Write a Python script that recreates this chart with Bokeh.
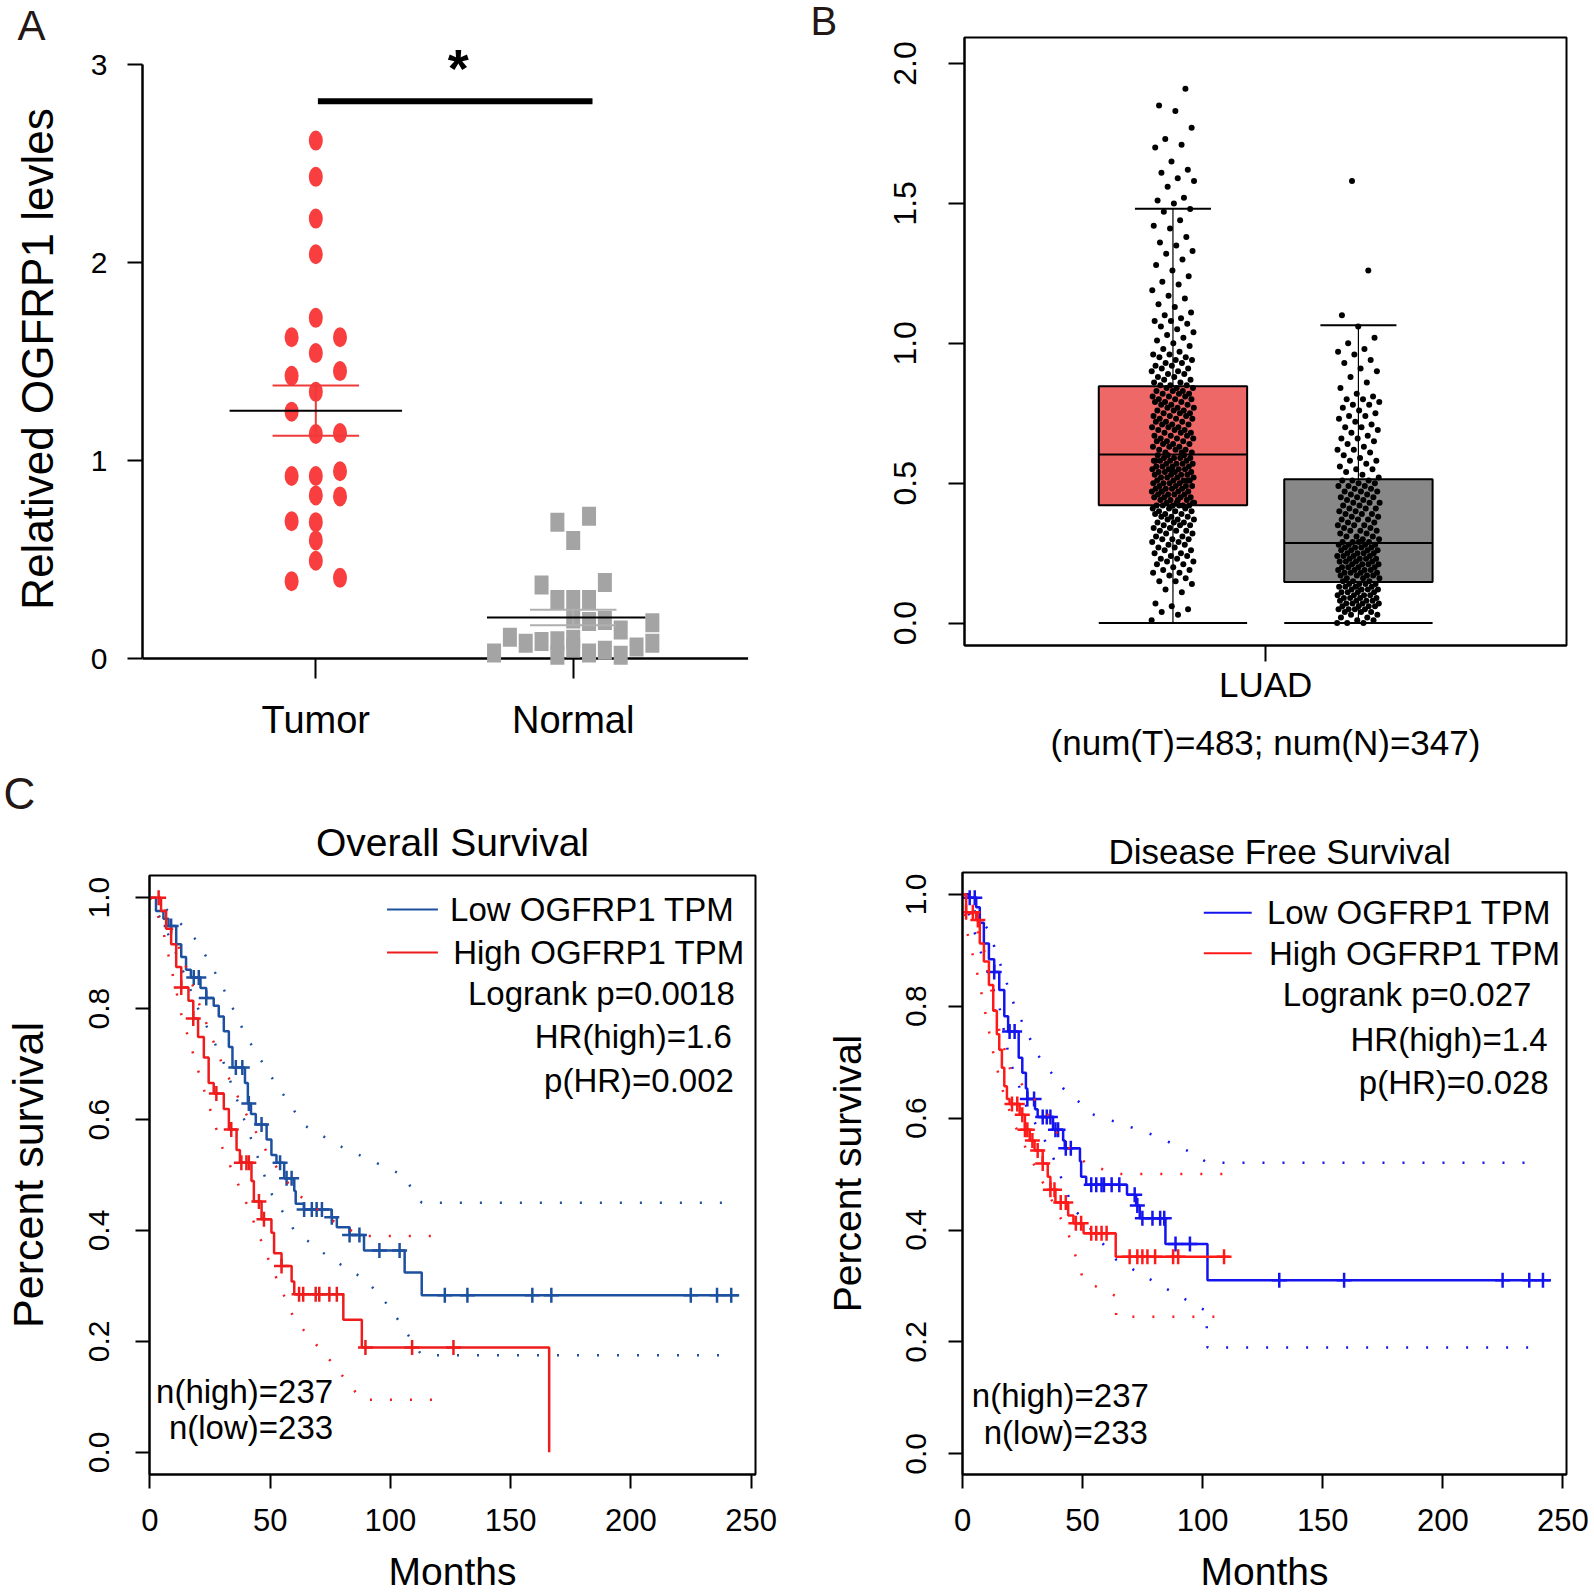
import math
import numpy as np
from bokeh.plotting import figure
from bokeh.models import Range1d, FixedTicker, Label, PrintfTickFormatter, Title
from bokeh.layouts import row, column
from bokeh.embed import file_html
from bokeh.resources import INLINE

FONT = "Liberation Sans"

# ---------------- Panel A data ----------------
a_categories = ["Tumor", "Normal"]
a_tumor_values = [2.616, 2.433, 2.222, 2.042, 1.721, 1.623, 1.623, 1.543, 1.452, 1.428,
                  1.347, 1.247, 1.134, 1.139, 0.946, 0.922, 0.922, 0.824, 0.819, 0.694,
                  0.689, 0.597, 0.494, 0.391, 0.408]
a_tumor_column = [0, 0, 0, 0, 0, -1, 1, 0, 1, -1, 0, -1, 0, 1, 1, -1, 0, 0, 1, -1, 0, 0, 0, -1, 1]
a_normal_values = [0.689, 0.719, 0.597, 0.372, 0.384, 0.298, 0.298, 0.298, 0.200, 0.188,
                   0.193, 0.181, 0.108, 0.078, 0.086, 0.090, 0.098, 0.144, 0.078, 0.029,
                   0.017, 0.054, 0.029, 0.042, 0.017, 0.059]
a_normal_column = [-1, 1, 0, -2, 2, -1, 0, 1, 0, 1, 2, 5, -4, -3, -2, -1, 0, 3, 5, -5, -1, 0, 1, 2, 3, 4]
a_tumor_mean, a_tumor_sem = 1.252, 0.127
a_normal_mean, a_normal_sem = 0.208, 0.039
a_yticks = [0, 1, 2, 3]
a_ylabel = "Relatived OGFRP1 levles"
a_sig_level = 2.815

# ---------------- Panel B data ----------------
b_tumor_points = [
    0.01, 0.03, 0.04, 0.05, 0.06, 0.07, 0.11, 0.12, 0.14, 0.15, 0.15, 0.16, 0.17, 0.18, 0.18,
    0.19, 0.19, 0.20, 0.21, 0.21, 0.22, 0.22, 0.23, 0.23, 0.24, 0.24, 0.25, 0.25, 0.26, 0.26,
    0.27, 0.27, 0.28, 0.28, 0.29, 0.29, 0.30, 0.30, 0.30, 0.31, 0.31, 0.32, 0.32, 0.33, 0.33,
    0.33, 0.34, 0.34, 0.35, 0.35, 0.35, 0.36, 0.36, 0.36, 0.37, 0.37, 0.37, 0.38, 0.38, 0.38,
    0.39, 0.39, 0.39, 0.40, 0.40, 0.40, 0.41, 0.41, 0.41, 0.42, 0.42, 0.42, 0.42, 0.42, 0.42,
    0.43, 0.43, 0.43, 0.44, 0.44, 0.44, 0.45, 0.45, 0.45, 0.45, 0.46, 0.46, 0.46, 0.46, 0.47,
    0.47, 0.47, 0.47, 0.48, 0.48, 0.48, 0.48, 0.49, 0.49, 0.49, 0.49, 0.50, 0.50, 0.50, 0.50,
    0.51, 0.51, 0.51, 0.51, 0.52, 0.52, 0.52, 0.52, 0.53, 0.53, 0.53, 0.53, 0.54, 0.54, 0.54,
    0.54, 0.55, 0.55, 0.55, 0.55, 0.56, 0.56, 0.56, 0.56, 0.57, 0.57, 0.57, 0.57, 0.58, 0.58,
    0.58, 0.58, 0.59, 0.59, 0.59, 0.59, 0.60, 0.60, 0.60, 0.43, 0.44, 0.47, 0.51, 0.55, 0.58,
    0.61, 0.61, 0.61, 0.62, 0.62, 0.62, 0.63, 0.63, 0.63, 0.64, 0.64, 0.64, 0.65, 0.65, 0.65,
    0.66, 0.66, 0.66, 0.67, 0.67, 0.67, 0.68, 0.68, 0.68, 0.69, 0.69, 0.69, 0.70, 0.70, 0.70,
    0.71, 0.71, 0.71, 0.72, 0.72, 0.72, 0.73, 0.73, 0.73, 0.74, 0.74, 0.74, 0.75, 0.75, 0.75,
    0.76, 0.76, 0.76, 0.77, 0.77, 0.77, 0.78, 0.78, 0.78, 0.79, 0.79, 0.79, 0.80, 0.80, 0.80,
    0.81, 0.81, 0.81, 0.82, 0.82, 0.82, 0.83, 0.83, 0.83, 0.84, 0.84, 0.84, 0.85, 0.85, 0.85,
    0.86, 0.86, 0.87, 0.87, 0.88, 0.88, 0.89, 0.89, 0.90, 0.90, 0.91, 0.91, 0.92, 0.92, 0.93,
    0.93, 0.94, 0.94, 0.95, 0.95, 0.96, 0.96, 0.97, 0.98, 0.99, 1.00, 1.01, 1.02, 1.03, 1.04,
    1.05, 1.06, 1.07, 1.08, 1.08, 1.09, 1.10, 1.11, 1.13, 1.14, 1.16, 1.17, 1.19, 1.21, 1.22,
    1.24, 1.26, 1.28, 1.30, 1.32, 1.33, 1.35, 1.36, 1.38, 1.41, 1.42, 1.44, 1.47, 1.48, 1.50,
    1.51, 1.52, 1.56, 1.58, 1.59, 1.61, 1.62, 1.65, 1.70, 1.71, 1.73, 1.77, 1.83, 1.85, 1.91,
]
b_normal_points = [
    0.00, 0.00, 0.00, 0.01, 0.01, 0.02, 0.02, 0.03, 0.03, 0.04, 0.04, 0.04, 0.05, 0.05, 0.05,
    0.05, 0.06, 0.06, 0.06, 0.06, 0.07, 0.07, 0.07, 0.07, 0.08, 0.08, 0.08, 0.08, 0.09, 0.09,
    0.09, 0.09, 0.10, 0.10, 0.10, 0.10, 0.11, 0.11, 0.11, 0.11, 0.12, 0.12, 0.12, 0.12, 0.13,
    0.13, 0.13, 0.13, 0.14, 0.14, 0.14, 0.14, 0.15, 0.15, 0.15,
    0.16, 0.16, 0.16, 0.17, 0.17, 0.17, 0.17, 0.18, 0.18, 0.18, 0.18, 0.19, 0.19, 0.19, 0.19,
    0.20, 0.20, 0.20, 0.20, 0.21, 0.21, 0.21, 0.21, 0.22, 0.22, 0.22, 0.22, 0.23, 0.23, 0.23,
    0.23, 0.24, 0.24, 0.24, 0.24, 0.25, 0.25, 0.25, 0.25, 0.26, 0.26, 0.26, 0.26, 0.27, 0.27,
    0.27, 0.27, 0.28, 0.28, 0.28, 0.28, 0.29, 0.29, 0.29, 0.29,
    0.30, 0.30, 0.31, 0.31, 0.31, 0.32, 0.32, 0.33, 0.33, 0.33, 0.34, 0.34, 0.35, 0.35, 0.35,
    0.36, 0.36, 0.37, 0.37, 0.37, 0.38, 0.38, 0.39, 0.39, 0.39, 0.40, 0.40, 0.41, 0.41, 0.41,
    0.42, 0.42, 0.43, 0.43, 0.43, 0.44, 0.44, 0.45, 0.45, 0.45, 0.46, 0.46, 0.47, 0.47, 0.47,
    0.48, 0.48, 0.49, 0.49, 0.49, 0.50, 0.50, 0.51, 0.51, 0.51,
    0.52, 0.53, 0.54, 0.55, 0.55, 0.56, 0.57, 0.58, 0.58, 0.59, 0.60, 0.61, 0.62, 0.62, 0.63,
    0.64, 0.65, 0.66, 0.66, 0.67, 0.68, 0.69, 0.70, 0.70, 0.71, 0.72, 0.73, 0.74, 0.74, 0.75,
    0.76, 0.77, 0.78, 0.78, 0.79, 0.80, 0.80, 0.81, 0.82, 0.84, 0.86, 0.88, 0.90, 0.91, 0.93,
    0.94, 0.96, 0.97, 0.98, 1.00, 1.02, 1.06, 1.10, 1.26, 1.58,
]
b_groups = ["Tumor", "Normal"]
b_q1 = [0.421, 0.147]
b_median = [0.603, 0.286]
b_q3 = [0.847, 0.514]
b_whisker_high = [1.481, 1.065]
b_whisker_low = [0.0, 0.0]
b_box_colors = ["#EE6868", "#888888"]
b_yticks = [0.0, 0.5, 1.0, 1.5, 2.0]
b_xlabel = "LUAD"
b_counts = "(num(T)=483; num(N)=347)"

# ---------------- Panel C data (Kaplan-Meier) ----------------
os_low_time = [0, 2.5, 5.6, 7.7, 10.9, 13.0, 15.0, 17.0, 21.0, 23.4, 26.5, 28.6, 30.7, 32.8, 34.3,
               39.5, 40.7, 42.0, 44.0, 48.5, 50.5, 52.6, 55.8, 60.0, 60.6, 64.0, 75.6, 77.7, 83.0,
               89.0, 105.9, 113.0, 245.0]
os_low_surv = [1.0, 0.976, 0.962, 0.949, 0.916, 0.893, 0.870, 0.856, 0.837, 0.819, 0.805, 0.786,
               0.759, 0.731, 0.694, 0.666, 0.629, 0.610, 0.591, 0.564, 0.536, 0.522, 0.494, 0.471,
               0.448, 0.438, 0.424, 0.406, 0.392, 0.364, 0.324, 0.283, 0.283]
os_low_censor = [8.8, 18.2, 20.3, 23.4, 35.7, 38.4, 41.1, 46.4, 54.1, 56.8, 58.9, 64.1, 67.3, 69.3,
                 71.5, 75.6, 83.0, 87.1, 95.4, 103.8, 122.6, 132.0, 159.0, 166.9, 224.9, 235.8, 241.7]
os_high_time = [0, 4.6, 6.7, 8.8, 10.9, 13.0, 16.0, 18.0, 20.0, 22.4, 24.4, 26.5, 30.7, 32.8, 36.0,
                37.4, 42.2, 43.2, 46.4, 50.5, 51.6, 54.7, 58.9, 60.0, 80.4, 88.1, 166.0]
os_high_surv = [1.0, 0.976, 0.944, 0.916, 0.875, 0.838, 0.814, 0.782, 0.749, 0.712, 0.666, 0.647,
                0.619, 0.582, 0.545, 0.522, 0.489, 0.452, 0.420, 0.396, 0.359, 0.336, 0.308, 0.285,
                0.239, 0.189, 0.0]
os_high_censor = [3.6, 13.0, 18.0, 27.6, 33.8, 38.0, 40.1, 41.1, 45.3, 47.4, 54.7, 62.0, 63.7, 68.9,
                  70.4, 74.6, 77.7, 89.6, 109.0, 126.2]
os_low_ci_hi_t = [0, 8, 20, 29, 40, 50, 64, 80, 95, 105, 113, 240]
os_low_ci_hi = [1.0, 0.975, 0.92, 0.85, 0.75, 0.68, 0.59, 0.55, 0.52, 0.50, 0.45, 0.45]
os_low_ci_lo_t = [0, 8, 20, 30, 40, 50, 60, 75, 90, 100, 106, 113, 240]
os_low_ci_lo = [1.0, 0.93, 0.80, 0.71, 0.59, 0.47, 0.40, 0.35, 0.31, 0.26, 0.22, 0.175, 0.175]
os_high_ci_hi_t = [0, 5, 13, 22, 30, 40, 50, 60, 75, 88, 120]
os_high_ci_hi = [1.0, 0.99, 0.90, 0.79, 0.70, 0.61, 0.53, 0.47, 0.42, 0.39, 0.39]
os_high_ci_lo_t = [0, 5, 13, 22, 30, 40, 50, 60, 75, 88, 118]
os_high_ci_lo = [1.0, 0.95, 0.79, 0.66, 0.55, 0.45, 0.34, 0.24, 0.165, 0.095, 0.095]

dfs_low_time = [0, 2.6, 5.7, 7.2, 8.9, 11.0, 13.2, 15.3, 17.4, 19.0, 23.4, 24.9, 26.4, 27.0, 30.2,
                31.3, 37.7, 41.9, 42.6, 48.9, 49.4, 51.5, 68.5, 72.3, 73.8, 84.5, 102.0, 245.0]
dfs_low_surv = [1.0, 0.994, 0.977, 0.949, 0.912, 0.884, 0.861, 0.829, 0.782, 0.755, 0.708, 0.681,
                0.653, 0.634, 0.616, 0.602, 0.579, 0.560, 0.546, 0.523, 0.495, 0.481, 0.463, 0.444,
                0.421, 0.375, 0.310, 0.310]
dfs_low_censor = [3.0, 5.1, 13.2, 19.6, 21.7, 27.0, 29.8, 33.4, 35.1, 36.6, 38.7, 39.8, 43.0, 45.1,
                  53.6, 55.7, 57.9, 58.9, 62.1, 65.3, 71.7, 72.8, 74.9, 79.1, 82.3, 84.0, 88.7, 94.7,
                  131.9, 158.9, 224.9, 236.0, 241.7]
dfs_high_time = [0, 1.5, 5.7, 7.2, 8.9, 11.0, 12.8, 14.3, 15.3, 16.4, 17.4, 18.5, 19.6, 23.8, 26.0,
                 28.0, 30.0, 33.4, 35.5, 36.6, 38.7, 44.0, 46.2, 50.4, 63.8, 111.0]
dfs_high_surv = [1.0, 0.968, 0.954, 0.912, 0.880, 0.838, 0.792, 0.750, 0.722, 0.690, 0.657, 0.634,
                 0.625, 0.606, 0.579, 0.560, 0.542, 0.519, 0.495, 0.472, 0.449, 0.426, 0.412, 0.394,
                 0.352, 0.352]
dfs_high_censor = [1.5, 4.3, 6.4, 20.6, 22.8, 24.9, 26.0, 27.0, 29.1, 31.3, 33.4, 36.6, 38.3, 40.9,
                   43.0, 47.2, 49.4, 53.6, 55.7, 57.9, 60.0, 69.6, 72.8, 74.9, 77.0, 80.2, 87.7, 89.8,
                   108.9]
dfs_low_ci_hi_t = [0, 11, 21.7, 31.3, 42, 54.7, 64, 80, 96, 102, 235]
dfs_low_ci_hi = [1.0, 0.935, 0.80, 0.713, 0.653, 0.606, 0.593, 0.569, 0.537, 0.52, 0.52]
dfs_low_ci_lo_t = [0, 7.9, 15.3, 19.6, 27, 36.6, 46, 64, 84.5, 101.5, 102, 237]
dfs_low_ci_lo = [1.0, 0.893, 0.80, 0.704, 0.616, 0.542, 0.44, 0.347, 0.296, 0.255, 0.19, 0.19]
dfs_high_ci_hi_t = [0, 3.6, 8.9, 14.3, 19.6, 26, 35.5, 40.9, 51.5, 64, 110]
dfs_high_ci_hi = [1.0, 0.963, 0.903, 0.773, 0.69, 0.653, 0.606, 0.56, 0.519, 0.50, 0.50]
dfs_high_ci_lo_t = [0, 1.5, 6.8, 13.2, 17.4, 21.7, 28, 36.6, 44, 50.4, 63.8, 64, 108]
dfs_high_ci_lo = [1.0, 0.94, 0.847, 0.708, 0.639, 0.588, 0.532, 0.458, 0.394, 0.31, 0.282, 0.245, 0.245]

km_ticks_x = [0, 50, 100, 150, 200, 250]
km_ticks_y = [0.0, 0.2, 0.4, 0.6, 0.8, 1.0]
km_xlabel = "Months"
km_ylabel = "Percent survival"


# ---------------- helpers ----------------
class Panel:
    def __init__(self, w, h, left, right, top, bottom, xr, yr, dy=0):
        self.xr, self.yr = xr, yr
        self.fl, self.ft = left, top
        self.fw, self.fh = w - left - right, h - top - bottom
        self.dy = dy
        p = figure(width=w, height=h, x_range=Range1d(*xr), y_range=Range1d(*yr),
                   output_backend="svg", toolbar_location=None,
                   min_border_left=left, min_border_right=right,
                   min_border_top=top, min_border_bottom=bottom)
        p.frame_align = False
        p.xgrid.visible = False
        p.ygrid.visible = False
        p.background_fill_color = "white"
        p.border_fill_color = "white"
        self.p = p

    def xd(self, fx):
        x0, x1 = self.xr
        return x0 + (fx - self.fl) / self.fw * (x1 - x0)

    def yd(self, fy):
        y0, y1 = self.yr
        return y1 - (fy + self.dy - self.ft) / self.fh * (y1 - y0)

    def label(self, text, fx, fy, size, align="center", baseline="middle", angle=0.0,
              bold=False, color="black"):
        self.p.add_layout(Label(x=self.xd(fx), y=self.yd(fy), text=text, text_font=FONT,
                                text_font_size=f"{size}px", text_align=align,
                                text_baseline=baseline, angle=angle, text_color=color,
                                text_font_style="bold" if bold else "normal"))

    def title(self, text, size, align="center", offset=0, standoff=10, color="black"):
        self.p.add_layout(Title(text=text, align=align, offset=offset, standoff=standoff,
                                text_font=FONT, text_font_size=f"{size}px",
                                text_font_style="normal", text_color=color), "above")


def style_axis(ax, size, tick_out, standoff, tick_in=0, line=True):
    ax.major_label_text_font = FONT
    ax.major_label_text_font_size = f"{size}px"
    ax.major_label_text_color = "black"
    ax.major_tick_out = tick_out
    ax.major_tick_in = tick_in
    ax.minor_tick_out = 0
    ax.minor_tick_in = 0
    ax.major_tick_line_width = 2
    ax.major_tick_line_color = "black"
    ax.axis_line_width = 2
    ax.axis_line_color = "black" if line else None
    ax.major_label_standoff = standoff


def axis_title(ax, text, size, standoff):
    ax.axis_label = text
    ax.axis_label_text_font = FONT
    ax.axis_label_text_font_size = f"{size}px"
    ax.axis_label_text_font_style = "normal"
    ax.axis_label_text_color = "black"
    ax.axis_label_standoff = standoff


def step_value(times, surv, t):
    ta, sa = np.asarray(times), np.asarray(surv)
    i = np.searchsorted(ta, t, side="right") - 1
    return sa[i]


LETTER_COLOR = "#231815"
TOP_H = 766
BOT_H = 1595 - TOP_H
ROW_SHIFT = 778 - TOP_H

# ================= Panel A =================
A = Panel(800, TOP_H, 142, 0, 46, TOP_H - 670, (0.3267, 2.883), (-0.060, 3.086))
pa = A.p
pa.outline_line_color = None
pa.yaxis.ticker = FixedTicker(ticks=a_yticks)
pa.yaxis.bounds = (0, 3)
style_axis(pa.yaxis[0], 30, 15, 20)
pa.yaxis.axis_line_width = 2.5
axis_title(pa.yaxis[0], a_ylabel, 44, 26)
pa.xaxis.ticker = FixedTicker(ticks=[1, 2])
pa.xaxis.major_label_overrides = {1: a_categories[0], 2: a_categories[1]}
style_axis(pa.xaxis[0], 38, 8, 20, tick_in=12, line=False)
A.title("A", 42, align="left", offset=-125, standoff=-2, color=LETTER_COLOR)
# x-axis line at y = 0
pa.segment(x0=[A.xd(142)], y0=[0], x1=[A.xd(747.6)], y1=[0], line_color="black", line_width=2.5)

tumor_x = [1 + c * 0.094 for c in a_tumor_column]
normal_x = [2 + c * 0.0615 for c in a_normal_column]
pa.ellipse(x=tumor_x, y=a_tumor_values, width=14, height=20, width_units="screen",
           height_units="screen", fill_color="#F83E3E", line_color=None)
pa.rect(x=normal_x, y=a_normal_values, width=14, height=19, width_units="screen",
        height_units="screen", fill_color="#A4A4A4", line_color=None)
pa.segment(x0=[1 - 0.168, 1 - 0.168, 1], y0=[a_tumor_mean + a_tumor_sem, a_tumor_mean - a_tumor_sem, a_tumor_mean - a_tumor_sem],
           x1=[1 + 0.168, 1 + 0.168, 1], y1=[a_tumor_mean + a_tumor_sem, a_tumor_mean - a_tumor_sem, a_tumor_mean + a_tumor_sem],
           line_color="#F03A3A", line_width=2)
pa.segment(x0=[1 - 0.335], y0=[a_tumor_mean], x1=[1 + 0.335], y1=[a_tumor_mean], line_color="black", line_width=2)
pa.segment(x0=[2 - 0.168, 2 - 0.168, 2], y0=[a_normal_mean + a_normal_sem, a_normal_mean - a_normal_sem, a_normal_mean - a_normal_sem],
           x1=[2 + 0.168, 2 + 0.168, 2], y1=[a_normal_mean + a_normal_sem, a_normal_mean - a_normal_sem, a_normal_mean + a_normal_sem],
           line_color="#AFAFAF", line_width=2)
pa.segment(x0=[2 - 0.335], y0=[a_normal_mean], x1=[2 + 0.28], y1=[a_normal_mean], line_color="black", line_width=2)
pa.segment(x0=[A.xd(317.4)], y0=[a_sig_level], x1=[A.xd(592)], y1=[a_sig_level], line_color="black", line_width=6)
A.label("*", 457.7, 67, 54, baseline="alphabetic", bold=True)

# ================= Panel B =================
B = Panel(794, TOP_H, 164, 28, 37, TOP_H - 645, (-0.124, 3.122), (-0.08, 2.093))
pb = B.p
pb.outline_line_color = "black"
pb.outline_line_width = 2
pb.yaxis.ticker = FixedTicker(ticks=b_yticks)
pb.yaxis.formatter = PrintfTickFormatter(format="%.1f")
pb.yaxis.major_label_orientation = "parallel"
style_axis(pb.yaxis[0], 32, 16, 32)
pb.xaxis.ticker = FixedTicker(ticks=[1.5])
pb.xaxis.major_label_overrides = {1.5: b_xlabel}
style_axis(pb.xaxis[0], 35, 16, 3)
axis_title(pb.xaxis[0], b_counts, 35, 16)
B.title("B", 40, align="left", offset=-154, standoff=-11, color=LETTER_COLOR)

for gi, pts in enumerate([b_tumor_points, b_normal_points]):
    cx = gi + 1
    pb.quad(left=[cx - 0.4], right=[cx + 0.4], bottom=[b_q1[gi]], top=[b_q3[gi]],
            fill_color=b_box_colors[gi], line_color="black", line_width=2)
    pb.segment(x0=[cx - 0.4], y0=[b_median[gi]], x1=[cx + 0.4], y1=[b_median[gi]], line_color="black", line_width=2)
    pb.segment(x0=[cx, cx], y0=[b_q3[gi], b_q1[gi]], x1=[cx, cx], y1=[b_whisker_high[gi], b_whisker_low[gi]],
               line_color="black", line_width=1.2)
    pb.segment(x0=[cx - 0.205, cx - 0.4], y0=[b_whisker_high[gi], b_whisker_low[gi]],
               x1=[cx + 0.205, cx + 0.4], y1=[b_whisker_high[gi], b_whisker_low[gi]],
               line_color="black", line_width=2)
    jit = [cx + ((i * 0.6180339887) % 1.0 - 0.5) * 0.23 for i in range(len(pts))]
    pb.scatter(x=jit, y=pts, marker="circle", size=6, fill_color="black", line_color=None)


# ================= Panel C =================
def km_panel(P, title, curves, legend, stats, nums, geo):
    p = P.p
    p.outline_line_color = "black"
    p.outline_line_width = 2
    p.xaxis.ticker = FixedTicker(ticks=km_ticks_x)
    style_axis(p.xaxis[0], 31, 14, 20)
    axis_title(p.xaxis[0], km_xlabel, 39, 16)
    p.yaxis.ticker = FixedTicker(ticks=km_ticks_y)
    p.yaxis.formatter = PrintfTickFormatter(format="%.1f")
    p.yaxis.major_label_orientation = "parallel"
    style_axis(p.yaxis[0], 30, 14, geo["ystandoff"])
    axis_title(p.yaxis[0], km_ylabel, geo["ylab_size"], geo["ylab_standoff"])
    for c in curves:
        for (ct, cv) in c["ci"]:
            p.line(ct, cv, line_color=c["color"], line_width=2.5, line_dash="2 18")
        p.step(c["t"], c["s"], mode="after", line_color=c["color"], line_width=2.5)
        cy = [step_value(c["t"], c["s"], t) for t in c["cens"]]
        p.scatter(x=c["cens"], y=cy, marker="cross", size=15, line_color=c["color"], line_width=2.5)
    for (txt, col, fy, ftx) in legend:
        p.line([P.xd(geo["leg_x0"]), P.xd(geo["leg_x1"])], [P.yd(fy), P.yd(fy)], line_color=col, line_width=2)
        P.label(txt, ftx, fy, 33, align="left")
    for (txt, fx, fy) in stats:
        P.label(txt, fx, fy, 33, align="right")
    for (txt, fx, fy) in nums:
        P.label(txt, fx, fy, 33, align="right")
    P.title(title, geo["title_size"], align=geo["title_align"], offset=geo["title_offset"],
            standoff=geo["title_standoff"])


C1 = Panel(800, BOT_H, 149, 45, 97 + ROW_SHIFT, 113, (-0.2, 251.8), (-0.04, 1.04), dy=ROW_SHIFT)
OS_BLUE, OS_RED = "#1E50A0", "#EE1C1C"
km_panel(C1, "Overall Survival",
         [dict(t=os_low_time, s=os_low_surv, cens=os_low_censor, color=OS_BLUE,
               ci=[(os_low_ci_hi_t, os_low_ci_hi), (os_low_ci_lo_t, os_low_ci_lo)]),
          dict(t=os_high_time, s=os_high_surv, cens=os_high_censor, color=OS_RED,
               ci=[(os_high_ci_hi_t, os_high_ci_hi), (os_high_ci_lo_t, os_high_ci_lo)])],
         [("Low OGFRP1 TPM", OS_BLUE, 131.4, 449.6), ("High OGFRP1 TPM", OS_RED, 175.1, 452.7)],
         [("Logrank p=0.0018", 734.4, 216.8), ("HR(high)=1.6", 731.4, 260.6), ("p(HR)=0.002", 733.4, 304.3)],
         [("n(high)=237", 332.6, 619.6), ("n(low)=233", 332.6, 656.3)],
         dict(ystandoff=26, ylab_size=43, ylab_standoff=35, leg_x0=386.5, leg_x1=437.4,
              title_size=39, title_align="center", title_offset=0, title_standoff=24))
C1.title("C", 44, align="left", offset=-146, standoff=-22, color=LETTER_COLOR)

C2 = Panel(794, BOT_H, 162, 28, 94 + ROW_SHIFT, 118, (0.0, 251.5), (-0.037, 1.039), dy=ROW_SHIFT)
DFS_BLUE, DFS_RED = "#1414EE", "#FF1A1A"
km_panel(C2, "Disease Free Survival",
         [dict(t=dfs_low_time, s=dfs_low_surv, cens=dfs_low_censor, color=DFS_BLUE,
               ci=[(dfs_low_ci_hi_t, dfs_low_ci_hi), (dfs_low_ci_lo_t, dfs_low_ci_lo)]),
          dict(t=dfs_high_time, s=dfs_high_surv, cens=dfs_high_censor, color=DFS_RED,
               ci=[(dfs_high_ci_hi_t, dfs_high_ci_hi), (dfs_high_ci_lo_t, dfs_high_ci_lo)])],
         [("Low OGFRP1 TPM", DFS_BLUE, 134.4, 466.4), ("High OGFRP1 TPM", DFS_RED, 175.1, 468.5)],
         [("Logrank p=0.027", 730.9, 216.8), ("HR(high)=1.4", 747.2, 261.6), ("p(HR)=0.028", 748.2, 305.3)],
         [("n(high)=237", 348.4, 619.6), ("n(low)=233", 347.4, 656.3)],
         dict(ystandoff=22, ylab_size=39, ylab_standoff=35, leg_x0=403.3, leg_x1=451.2,
              title_size=35, title_align="left", title_offset=146, title_standoff=4))

layout = column(row(pa, pb), row(C1.p, C2.p))
open("out.html", "w").write(file_html(layout, INLINE))
